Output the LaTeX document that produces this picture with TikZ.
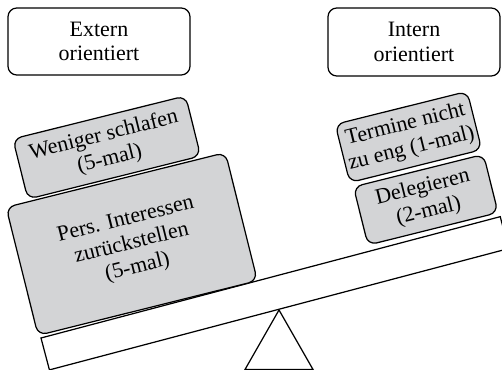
\documentclass[tikz,border=0pt]{standalone}
\usepackage{fontspec}
\setmainfont{Liberation Serif}
\definecolor{boxgray}{RGB}{211,212,214}

\begin{document}
\begin{tikzpicture}[
  font=\fontsize{12.5}{14}\selectfont,
  label box/.style={draw, line width=0.7pt, rounded corners=5pt, align=center, inner sep=0pt},
  weight box/.style={label box, fill=boxgray, rotate=14}
]
\useasboundingbox (0,0) rectangle (10.04,7.4);

% the two sides
\node [label box, minimum width=3.64cm, minimum height=1.34cm] (extern) at (1.98,6.57) {Extern\\orientiert};
\node [label box, minimum width=3.44cm, minimum height=1.36cm] (intern) at (8.28,6.56) {Intern\\orientiert};

% pivot under the beam
\coordinate (pivot) at (5.58,1.2);
\draw [line width=0.7pt] (pivot)--(4.9,0.01)--(6.26,0.01)--cycle;

% the tilted beam
\draw [line width=0.7pt, fill=white, rotate around={14.8:(0.82,0.64)}] (0.82,0.64) rectangle ++(9.5,-0.66);

% weights, left side
\node [weight box, minimum width=3.56cm, minimum height=1.24cm] (schlafen) at (2.135,4.45) {Weniger schlafen\\(5-mal)};
\node [weight box, minimum width=4.52cm, minimum height=2.64cm] (interessen) at (2.635,2.52) {Pers. Interessen\\zur\"uckstellen\\(5-mal)};

% weights, right side
\node [weight box, minimum width=2.72cm, minimum height=1.2cm] (termine) at (8.17,4.66) {Termine nicht\\zu eng (1-mal)};
\node [weight box, minimum width=2.68cm, minimum height=1.2cm] (delegieren) at (8.515,3.405) {Delegieren\\(2-mal)};

\end{tikzpicture}
\end{document}
